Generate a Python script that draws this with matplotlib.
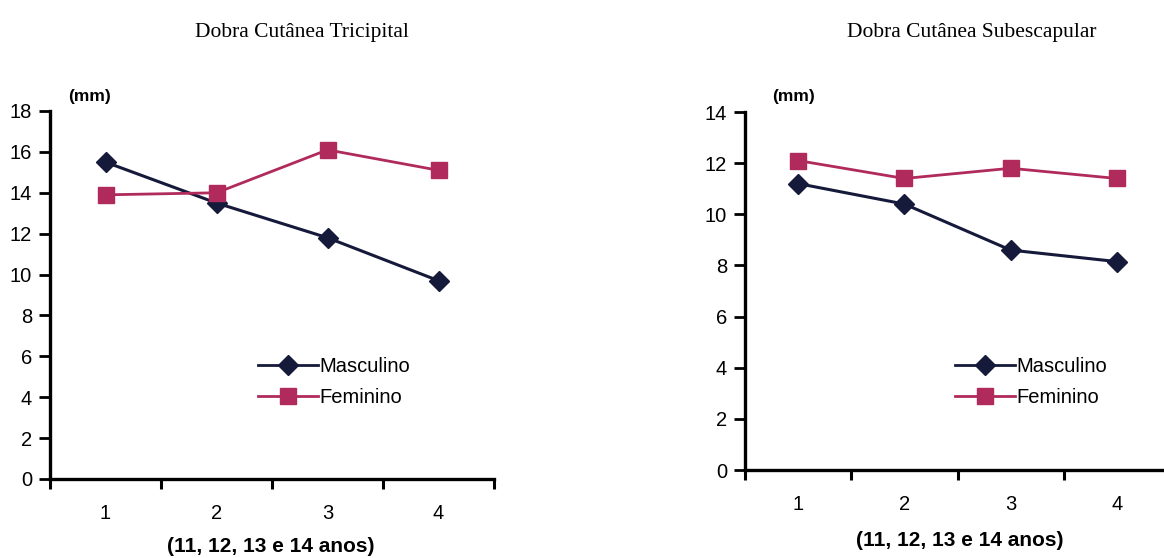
import matplotlib
matplotlib.use("Agg")
import matplotlib.pyplot as plt
from matplotlib.lines import Line2D

# Skinfold thickness (mm) by age group 1..4 (11, 12, 13 and 14 years)
categories = [1, 2, 3, 4]
tricipital_masc = [15.5, 13.5, 11.8, 9.7]
tricipital_fem = [13.9, 14.0, 16.1, 15.1]
subescapular_masc = [11.2, 10.4, 8.6, 8.15]
subescapular_fem = [12.1, 11.4, 11.8, 11.4]

titles = ["Dobra Cutânea Tricipital", "Dobra Cutânea Subescapular"]
series_names = ["Masculino", "Feminino"]
xlabel = "(11, 12, 13 e 14 anos)"
unit = "(mm)"

MASC = "#161a3a"
FEM = "#b02a5c"
SANS = "Liberation Sans"
SERIF = "Liberation Serif"

W, H = 1164, 558
fig = plt.figure(figsize=(W / 100, H / 100), dpi=100)
fig.patch.set_facecolor("white")


def px_axes(x0, x1, ytop, ybot):
    return fig.add_axes([x0 / W, 1 - ybot / H, (x1 - x0) / W, (ybot - ytop) / H])


def draw(ax, masc, fem, ymax, ystep, title_x, unit_x, leg_x):
    ax.plot(categories, masc, color=MASC, lw=2.2, marker="D", ms=10,
            mfc=MASC, mec=MASC, zorder=3)
    ax.plot(categories, fem, color=FEM, lw=2.0, marker="s", ms=11,
            mfc=FEM, mec=FEM, zorder=3)
    ax.set_xlim(0.5, 4.5)
    ax.set_ylim(0, ymax)
    ax.set_yticks(range(0, ymax + 1, ystep))
    ax.set_xticks(categories)
    ax.set_xticks([0.5, 1.5, 2.5, 3.5, 4.5], minor=True)
    ax.tick_params(axis="x", which="major", length=0, pad=18,
                   labelsize=14.5)
    ax.tick_params(axis="x", which="minor", length=7, width=2.2,
                   direction="out", color="black")
    ax.tick_params(axis="y", length=8, width=2.0, pad=5, labelsize=14.5,
                   color="black")
    for lab in ax.get_xticklabels() + ax.get_yticklabels():
        lab.set_fontfamily(SANS)
    for s in ("top", "right"):
        ax.spines[s].set_visible(False)
    for s in ("left", "bottom"):
        ax.spines[s].set_linewidth(2.4)
        ax.spines[s].set_color("black")
    ax.set_facecolor("none")
    fig.text(title_x / W, 1 - 32 / H, ax.get_label(), fontsize=15.5,
             family=SERIF, ha="center", va="center")
    fig.text(unit_x / W, 1 - 97 / H, unit, fontsize=12.5, family=SANS,
             weight="bold", ha="left", va="center")
    handles = [
        Line2D([], [], color=MASC, lw=2.0, marker="D", ms=10, mfc=MASC, mec=MASC),
        Line2D([], [], color=FEM, lw=2.0, marker="s", ms=11, mfc=FEM, mec=FEM),
    ]
    ax.legend(handles, series_names, loc="center left",
              bbox_to_anchor=(leg_x / W, 1 - 382 / H),
              bbox_transform=fig.transFigure, frameon=False,
              prop={"family": SANS, "size": 14.5},
              handlelength=3.0, handletextpad=0.05, labelspacing=0.6,
              borderpad=0, borderaxespad=0)


ax1 = px_axes(50, 494, 111, 479)
ax1.set_label(titles[0])
draw(ax1, tricipital_masc, tricipital_fem, 18, 2, 302, 68, 258)
fig.text(271 / W, 1 - 547 / H, xlabel, fontsize=15, family=SANS,
         weight="bold", ha="center", va="center")

ax2 = px_axes(745, 1170, 112, 470)
ax2.set_label(titles[1])
draw(ax2, subescapular_masc, subescapular_fem, 14, 2, 972, 772, 955)
fig.text(960 / W, 1 - 540 / H, xlabel, fontsize=15, family=SANS,
         weight="bold", ha="center", va="center")

fig.savefig("out.png", dpi=100, facecolor="white")
